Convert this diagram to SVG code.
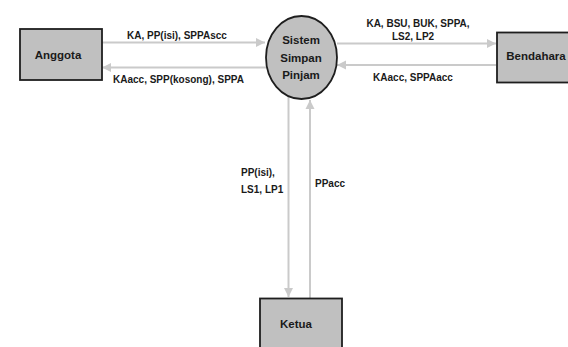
<svg xmlns="http://www.w3.org/2000/svg" width="568" height="347" viewBox="0 0 568 347">
<style>
.box{fill:#c0c0c0;stroke:#1e1e1e;stroke-width:1.8}
.node-text{font-family:"Liberation Sans",Arial,sans-serif;font-weight:bold;font-size:11.5px;fill:#1a1a1a;text-anchor:middle}
.lbl{font-family:"Liberation Sans",Arial,sans-serif;font-weight:bold;font-size:10px;fill:#1a1a1a}
.flow{fill:none;stroke:#cacaca;stroke-width:2;marker-end:url(#ah)}
.plain{fill:none;stroke:#cacaca;stroke-width:2}
</style>
<defs>
<marker id="ah" markerUnits="userSpaceOnUse" markerWidth="10" markerHeight="10" refX="9" refY="5" orient="auto">
<path d="M0,0.5 L9,5 L0,9.5 Z" fill="#cacaca"/>
</marker>
</defs>
<rect width="568" height="347" fill="#ffffff"/>
<g id="connectors">
<line class="flow" x1="102" y1="42.5" x2="265" y2="42.5"/>
<line class="flow" x1="267" y1="67.5" x2="102" y2="67.5"/>
<line class="flow" x1="337" y1="43.5" x2="496" y2="43.5"/>
<line class="flow" x1="496" y1="65" x2="337" y2="65"/>
<line class="flow" x1="288.5" y1="97" x2="288.5" y2="297"/>
<line class="flow" x1="310" y1="298" x2="310" y2="100"/>
<text class="lbl" x="127" y="39">KA, PP(isi), SPPAscc</text>
<text class="lbl" x="113" y="83">KAacc, SPP(kosong), SPPA</text>
<text class="lbl" x="418" y="27" text-anchor="middle">KA, BSU, BUK, SPPA,</text>
<text class="lbl" x="413" y="40" text-anchor="middle">LS2, LP2</text>
<text class="lbl" x="413" y="81" text-anchor="middle">KAacc, SPPAacc</text>
<text class="lbl" x="241" y="176">PP(isi),</text>
<text class="lbl" x="241" y="193">LS1, LP1</text>
<text class="lbl" x="315" y="187">PPacc</text>
</g>
<g id="anggota">
<rect class="box" x="20" y="29" width="82" height="51"/>
<text class="node-text" x="58" y="59">Anggota</text>
</g>
<g id="sistem">
<ellipse cx="301.5" cy="57.5" rx="35.5" ry="41.5" fill="#c0c0c0" stroke="#1e1e1e" stroke-width="1.8"/>
<text class="node-text" x="301" y="44">Sistem</text>
<text class="node-text" x="301" y="62">Simpan</text>
<text class="node-text" x="301" y="79">Pinjam</text>
</g>
<g id="bendahara">
<rect class="box" x="497" y="32.5" width="80" height="50"/>
<text class="node-text" x="536" y="60">Bendahara</text>
</g>
<g id="ketua">
<rect class="box" x="260" y="298.5" width="82" height="60"/>
<text class="node-text" x="296" y="328">Ketua</text>
</g>
</svg>
